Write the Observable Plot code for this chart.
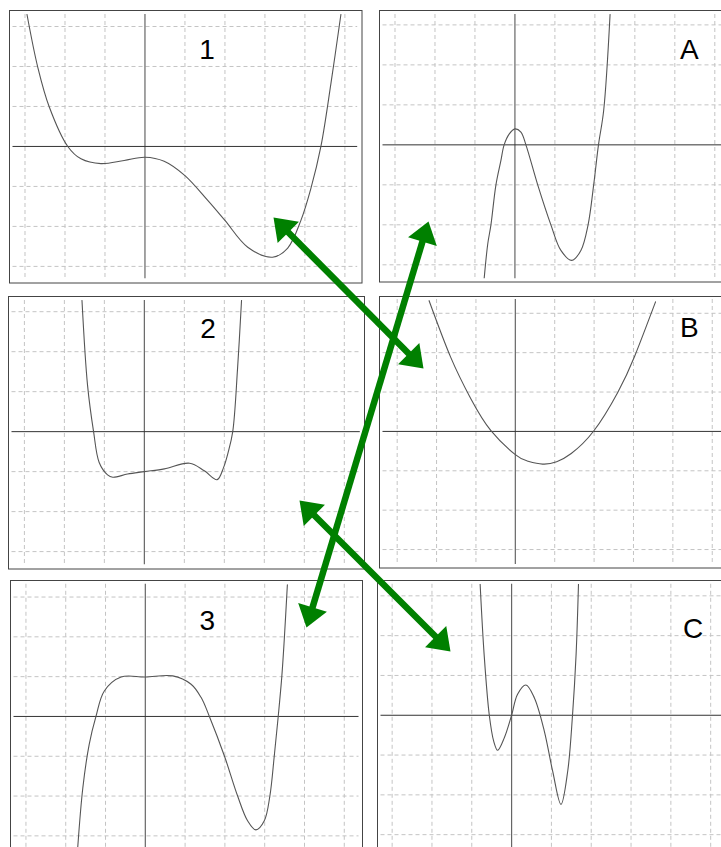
<!DOCTYPE html>
<html><head><meta charset="utf-8">
<script src="https://cdn.jsdelivr.net/npm/d3@7"></script>
<script src="https://cdn.jsdelivr.net/npm/@observablehq/plot@0.6"></script>
<style>
html,body{margin:0;padding:0;background:#fff;}
#wrap{position:relative;width:721px;height:847px;overflow:hidden;background:#fff;}
#wrap svg{position:absolute;overflow:visible;background:transparent;}
</style></head><body><div id="wrap"></div>
<script>
// ---- data (grid units) ----
const panelLabels = ["1", "A", "2", "B", "3", "C"];

const curve1X = [-2.95,-2.68,-2.39,-1.93,-1.6,-1.1,-0.52,0,0.48,1.0,1.57,2.0,2.57,3.19,3.57,3.9,4.15,4.4,4.65,4.9];
const curve1Y = [3.3,1.98,0.98,0,-0.31,-0.43,-0.35,-0.27,-0.37,-0.73,-1.35,-1.85,-2.52,-2.77,-2.54,-1.85,-1.05,0,1.57,3.3];

const curveAX = [-0.77,-0.68,-0.6,-0.475,-0.35,-0.27,-0.14,0,0.15,0.275,0.57,0.9,1.15,1.42,1.65,1.83,1.97,2.09,2.22,2.38];
const curveAY = [-3.35,-2.48,-2.0,-1.0,-0.39,0,0.275,0.4,0.32,0,-1.0,-2.0,-2.64,-2.89,-2.64,-2.0,-1.0,0,0.86,3.26];

const curve2X = [-1.56,-1.42,-1.27,-1.13,-0.92,-0.79,-0.42,0,0.5,1.13,1.5,1.82,1.98,2.1,2.21,2.33,2.43];
const curve2Y = [3.28,1.15,0,-0.77,-1.08,-1.14,-1.06,-1.0,-0.93,-0.79,-0.98,-1.2,-0.9,-0.5,0,1.57,3.28];

const curveBX = [-2.19,-1.64,-1.13,-0.62,0,0.3,0.69,1.05,1.42,1.99,2.6,3.03,3.56];
const curveBY = [3.32,1.88,0.83,0.02,-0.59,-0.75,-0.83,-0.77,-0.56,0.01,0.99,1.91,3.29];

const curve3X = [-1.7,-1.57,-1.41,-1.24,-1.03,-0.61,0,0.69,1.15,1.4,1.61,1.99,2.32,2.57,2.78,2.99,3.13,3.24,3.34,3.43,3.49,3.57];
const curve3Y = [-3.31,-1.79,-0.7,0,0.64,0.99,0.99,1.02,0.81,0.48,0,-1.0,-2.0,-2.62,-2.85,-2.62,-2.0,-1.0,0,1.0,1.9,3.31];

const curveCX = [-0.79,-0.69,-0.56,-0.45,-0.35,-0.18,0,0.15,0.36,0.57,0.82,1.03,1.24,1.41,1.53,1.62,1.68];
const curveCY = [3.29,1.53,0,-0.65,-0.88,-0.56,0,0.53,0.76,0.44,-0.39,-1.4,-2.24,-1.4,0,1.53,3.29];

const curvesX = [curve1X, curveAX, curve2X, curveBX, curve3X, curveCX];
const curvesY = [curve1Y, curveAY, curve2Y, curveBY, curve3Y, curveCY];
const curveTypes = ["catmull-rom", "catmull-rom", "catmull-rom", "natural", "catmull-rom", "catmull-rom"];

// label positions (grid units)
const labelX = [1.55, 4.36, 1.59, 4.42, 1.56, 4.56];
const labelY = [2.19, 2.15, 2.33, 2.4, 2.18, 1.95];

// grid tick values
const gridTicksX = [-3,-2,-1,1,2,3,4,5];
const gridTicksY = [-3,-2,-1,1,2,3];

// visible domain of each panel (grid units)
const domainsX = [[-3.3,5.32],[-3.3,5.33],[-3.31,5.4],[-3.36,5.4],[-3.3,5.37],[-3.28,5.41]];
const domainsY = [[-3.31,3.3],[-3.35,3.26],[-3.33,3.28],[-3.38,3.35],[-3.33,3.32],[-3.36,3.29]];

// layout (page pixels): outer frame box and inner plotting box
const frameBoxes = [
  [8.5,10,361,282.5],[378.5,10,731,281.5],
  [7.5,296,363.5,568.5],[378.5,296,731,567.5],
  [9.5,579.5,361.5,852],[376.5,579.5,730,852]
];
const innerBoxes = [
  [12,14,356.7,278.3],[382,14,727,278.3],
  [11,300,359.3,564.3],[382,299,727,564],
  [13,583.3,358,848],[380,583.3,726,848]
];

// matching arrows (page pixels, tip to tip)
const arrowX1 = [273, 428, 299];
const arrowY1 = [217, 221, 500];
const arrowX2 = [423, 306, 450];
const arrowY2 = [368, 627, 651];

// ---- drawing ----
const wrap = document.getElementById("wrap");
const FONT = "'Liberation Sans', Arial, Helvetica, sans-serif";

panelLabels.forEach((lab, i) => {
  const [fl, ft, fr, fb] = frameBoxes[i];
  const [il, it, ir, ib] = innerBoxes[i];
  const sl = fl - 1, st = ft - 1, sr = fr + 1, sb = fb + 1;
  const data = curvesX[i].map((x, k) => ({x, y: curvesY[i][k]}));
  const svg = Plot.plot({
    width: sr - sl,
    height: sb - st,
    marginLeft: il - sl, marginTop: it - st, marginRight: sr - ir, marginBottom: sb - ib,
    style: {background: "transparent", overflow: "visible"},
    x: {domain: domainsX[i], axis: null},
    y: {domain: domainsY[i], axis: null},
    marks: [
      Plot.ruleX(gridTicksX, {stroke: "#c4c4c4", strokeWidth: 1, strokeDasharray: "4,3"}),
      Plot.ruleY(gridTicksY, {stroke: "#c4c4c4", strokeWidth: 1, strokeDasharray: "4,3"}),
      Plot.ruleX([0], {stroke: "#666", strokeWidth: 1.2}),
      Plot.ruleY([0], {stroke: "#333", strokeWidth: 1}),
      Plot.line(data, {x: "x", y: "y", curve: curveTypes[i], stroke: "#555", strokeWidth: 1.1, clip: true}),
      Plot.text([{t: lab, x: labelX[i], y: labelY[i]}], {x: "x", y: "y", text: "t", fontSize: 28, fontFamily: FONT, lineAnchor: "bottom", textAnchor: "middle", fill: "#000"}),
      Plot.frame({stroke: "#444", strokeWidth: 1,
        insetLeft: -(il - fl), insetTop: -(it - ft), insetRight: -(fr - ir), insetBottom: -(fb - ib)})
    ]
  });
  svg.style.position = "absolute";
  svg.style.left = sl + "px";
  svg.style.top = st + "px";
  wrap.appendChild(svg);
});

// arrows overlay
const HEAD_LEN = 21, HEAD_HALF = 15;
const shafts = [], heads = [];
arrowX1.forEach((x1, i) => {
  const y1 = arrowY1[i], x2 = arrowX2[i], y2 = arrowY2[i];
  const dx = x2 - x1, dy = y2 - y1, L = Math.hypot(dx, dy);
  const ux = dx / L, uy = dy / L;
  const b1x = x1 + ux * HEAD_LEN, b1y = y1 + uy * HEAD_LEN;
  const b2x = x2 - ux * HEAD_LEN, b2y = y2 - uy * HEAD_LEN;
  shafts.push({x1: x1 + ux * (HEAD_LEN - 3), y1: y1 + uy * (HEAD_LEN - 3), x2: x2 - ux * (HEAD_LEN - 3), y2: y2 - uy * (HEAD_LEN - 3)});
  const rotTo2 = Math.atan2(ux, -uy) * 180 / Math.PI;
  heads.push({x: b2x, y: b2y, rot: rotTo2});
  heads.push({x: b1x, y: b1y, rot: rotTo2 + 180});
});
const overlay = Plot.plot({
  width: 721, height: 847, margin: 0,
  style: {background: "transparent", overflow: "visible"},
  x: {domain: [0, 721], range: [0, 721], axis: null},
  y: {domain: [0, 847], range: [0, 847], axis: null},
  marks: [
    Plot.link(shafts, {x1: "x1", y1: "y1", x2: "x2", y2: "y2", stroke: "#008000", strokeWidth: 6.5}),
    Plot.vector(heads, {x: "x", y: "y", rotate: "rot", length: HEAD_LEN, r: HEAD_HALF, shape: "spike", anchor: "start", fill: "#008000", stroke: "none"})
  ]
});
overlay.style.position = "absolute";
overlay.style.left = "0px";
overlay.style.top = "0px";
overlay.style.pointerEvents = "none";
wrap.appendChild(overlay);
</script>
</body></html>
